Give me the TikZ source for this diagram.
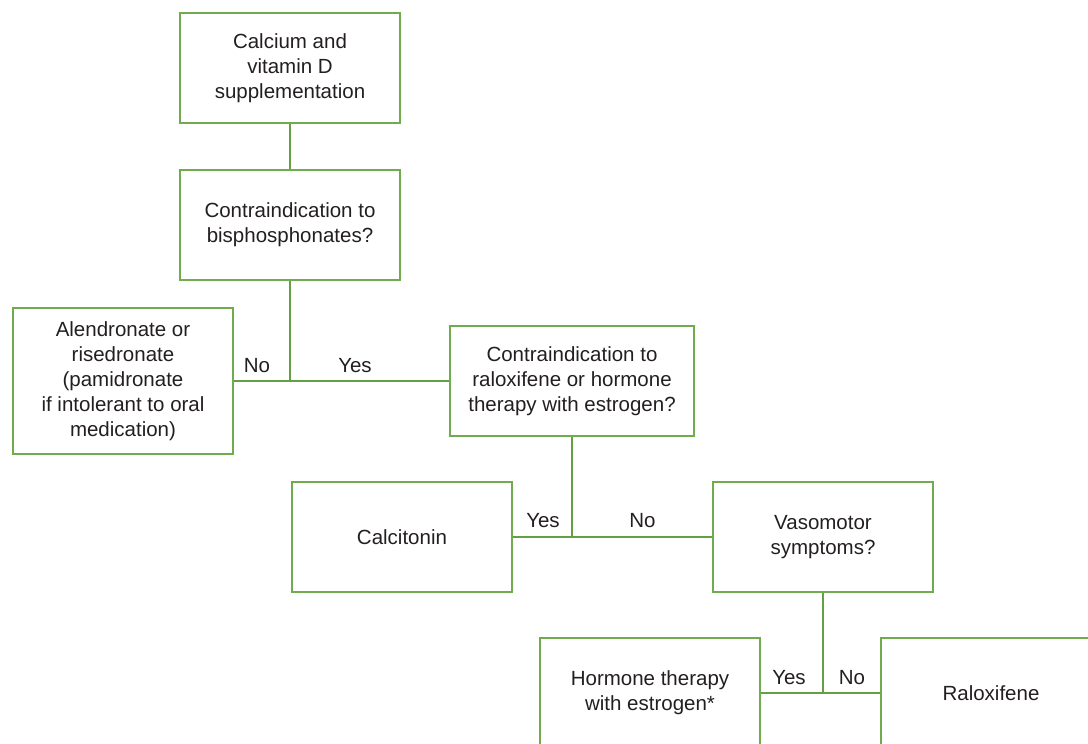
\documentclass[tikz,border=0pt]{standalone}
\usepackage{fontspec}
\setmainfont{Liberation Sans}
\usepackage{xcolor}
\usetikzlibrary{positioning}
\definecolor{boxgreen}{RGB}{112,172,78}
\definecolor{linegreen}{RGB}{98,160,66}
\definecolor{txtgray}{RGB}{35,31,32}

\begin{document}
\begin{tikzpicture}[x=1pt, y=-1pt,
	font=\fontsize{20.5}{25}\selectfont,
	stepbox/.style={draw=boxgreen, line width=1.4pt, rectangle, minimum width=220pt, minimum height=110pt, inner sep=0pt, align=center, text=txtgray},
	link/.style={linegreen, line width=1.8pt},
	answer/.style={text=txtgray, inner sep=0pt}]
	\useasboundingbox (0, 0) rectangle (1088, 744);
	\clip (0, 0) rectangle (1088, 744);
	% first two steps
	\node[stepbox] (calcium) at (290, 68) {Calcium and\\vitamin D\\supplementation};
	\node[stepbox] (bisph) at (290, 225) {Contraindication to\\bisphosphonates?};
	\draw[link] (calcium.south) -- (bisph.north);
	% bisphosphonates branch
	\node[stepbox, minimum height=146pt] (alend) at (123, 381) {Alendronate or\\risedronate\\(pamidronate\\if intolerant to oral\\medication)};
	\node[stepbox, minimum width=244pt] (ralox) at (572, 381) {Contraindication to\\raloxifene or hormone\\therapy with estrogen?};
	\coordinate (split1) at (290, 381);
	\draw[link] (bisph.south) -- (split1);
	\draw[link] (alend.east) -- (ralox.west);
	\node[answer] (no1) at (257, 366) {No};
	\node[answer] (yes1) at (355, 366) {Yes};
	% raloxifene branch
	\node[stepbox] (calcit) at (402, 537) {Calcitonin};
	\node[stepbox] (vaso) at (823, 537) {Vasomotor\\symptoms?};
	\coordinate (split2) at (572, 537);
	\draw[link] (ralox.south) -- (split2);
	\draw[link] (calcit.east) -- (vaso.west);
	\node[answer] (yes2) at (543, 521) {Yes};
	\node[answer] (no2) at (642.5, 521) {No};
	% vasomotor branch
	\node[stepbox] (hormone) at (650, 693) {Hormone therapy\\with estrogen*};
	\node[stepbox] (ralfin) at (991, 693) {Raloxifene};
	\coordinate (split3) at (823, 693);
	\draw[link] (vaso.south) -- (split3);
	\draw[link] (hormone.east) -- (ralfin.west);
	\node[answer] (yes3) at (789, 678) {Yes};
	\node[answer] (no3) at (852, 678) {No};
\end{tikzpicture}
\end{document}
